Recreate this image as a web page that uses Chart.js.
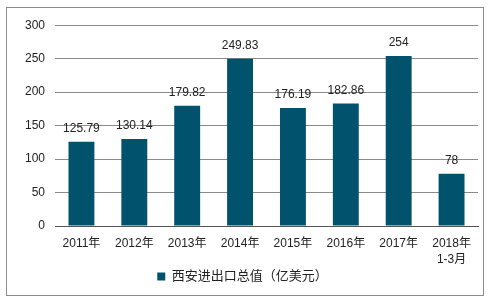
<!DOCTYPE html>
<html><head><meta charset="utf-8">
<script src="https://cdn.jsdelivr.net/npm/chart.js@4/dist/chart.umd.min.js"></script>
<style>
html,body{margin:0;padding:0;background:#fff;}
#box{position:absolute;left:6px;top:7px;width:476px;height:287px;border:1px solid #8c8c8c;}
#wrap{position:absolute;left:0;top:0;width:476px;height:287px;}
</style></head>
<body>
<div id="box"><div id="wrap"><canvas id="c"></canvas></div></div>
<script>
const categories = ['2011年','2012年','2013年','2014年','2015年','2016年','2017年',['2018年','1-3月']];
const values = [125.79,130.14,179.82,249.83,176.19,182.86,254,78];
const valueLabels = ['125.79','130.14','179.82','249.83','176.19','182.86','254','78'];
const seriesName = '西安进出口总值（亿美元）';
const yTicks = [0,50,100,150,200,250,300];

const FONT = 'Arial, "Liberation Sans", "Noto Sans CJK SC", sans-serif';

const labelPlugin = {
  id:'labels',
  afterDatasetsDraw(chart){
    const ctx = chart.ctx;
    const meta = chart.getDatasetMeta(0);
    ctx.save();
    ctx.font = '12px ' + FONT;
    ctx.fillStyle = '#222';
    ctx.textAlign = 'center';
    ctx.textBaseline = 'middle';
    meta.data.forEach((bar,i)=>{
      ctx.fillText(valueLabels[i], bar.x, bar.y - 13);
    });
    ctx.restore();
  }
};

new Chart(document.getElementById('c'), {
  type:'bar',
  data:{
    labels:categories,
    datasets:[{
      label:seriesName,
      data:values,
      backgroundColor:'#01536D',
      barPercentage:0.49,
      categoryPercentage:1.0
    }]
  },
  options:{
    responsive:true,
    maintainAspectRatio:false,
    animation:false,
    layout:{padding:{left:0,right:5,top:3,bottom:2}},
    plugins:{
      legend:{
        position:'bottom',
        labels:{
          font:{size:13,family:FONT},
          color:'#222',
          boxWidth:8,
          boxHeight:8,
          padding:3
        }
      },
      tooltip:{enabled:false}
    },
    scales:{
      x:{
        afterFit(scale){ scale.height = 41; },
        grid:{display:false, drawTicks:false},
        border:{display:true,color:'#555',width:1},
        ticks:{font:{size:12,family:FONT,lineHeight:1.38},color:'#222',padding:9,maxRotation:0,autoSkip:false}
      },
      y:{
        min:0,max:300,
        afterBuildTicks(scale){ scale.ticks = yTicks.map(v=>({value:v})); },
        afterFit(scale){ scale.width = 48; },
        grid:{color:'#8a8a8a',drawTicks:false,lineWidth:1},
        border:{display:false},
        ticks:{font:{size:12,family:FONT},color:'#222',padding:10,stepSize:50}
      }
    }
  },
  plugins:[labelPlugin]
});
</script>
</body></html>
